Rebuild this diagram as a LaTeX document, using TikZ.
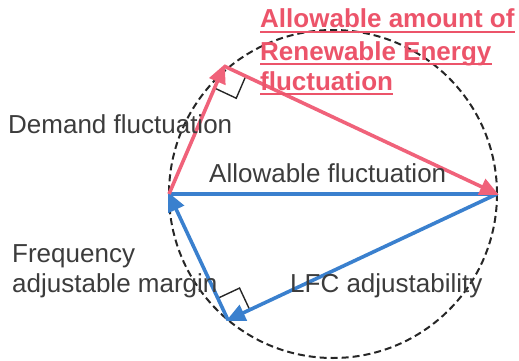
\documentclass[tikz,border=0pt]{standalone}
\usepackage{fontspec}
\setmainfont{Liberation Sans}
\usetikzlibrary{arrows.meta,calc}
\definecolor{pinkc}{RGB}{240,98,122}
\definecolor{pinkt}{RGB}{236,84,106}
\definecolor{bluec}{RGB}{58,128,206}
\definecolor{grayt}{RGB}{60,60,60}
\tikzset{
  vec/.style={line width=3.6pt,-{Triangle[length=19pt,width=17pt]}},
  pinkvec/.style={vec,draw=pinkc,fill=pinkc},
  bluevec/.style={vec,draw=bluec,fill=bluec},
  lbl/.style={inner sep=0pt,anchor=base west,text=grayt,font=\fontsize{26}{30}\selectfont},
  plbl/.style={inner sep=0pt,anchor=base west,text=pinkt,font=\fontsize{26}{30}\selectfont\bfseries},
  uline/.style={draw=pinkt,line width=1.6pt},
  rmark/.style={draw=black!85,line width=1.4pt},
  circ/.style={draw=black!85,line width=2pt,dash pattern=on 7pt off 4pt}
}
\begin{document}
\begin{tikzpicture}[x=1pt,y=-1pt]
\useasboundingbox (0,0) rectangle (519,361);
\coordinate (O) at (333,194);
\coordinate (A) at (169,194);
\coordinate (B) at (497,194);
\coordinate (C) at (224,66);
\coordinate (D) at (228,320);
\draw[circ] (O) circle[radius=164];
% right angle marks
\coordinate (Ca) at ($(C)!24pt!(A)$);
\coordinate (Cb) at ($(C)!24pt!(B)$);
\draw[rmark] (Ca) -- ($(Ca)+(Cb)-(C)$) -- (Cb);
\coordinate (Da) at ($(D)!24pt!(A)$);
\coordinate (Db) at ($(D)!24pt!(B)$);
\draw[rmark] (Da) -- ($(Da)+(Db)-(D)$) -- (Db);
% blue vectors
\draw[line width=3.6pt,bluec] (A) -- (B);
\draw[bluevec,shorten >=-2pt] (D) -- (A);
\draw[bluevec,shorten >=-2pt] (B) -- (D);
% pink vectors
\draw[pinkvec,shorten >=-2pt] (A) -- (C);
\draw[pinkvec,shorten >=-2pt] (C) -- (B);
% labels
\node[plbl] (t1) at (260,28) {Allowable amount of};
\node[plbl] (t2) at (260,60) {Renewable Energy};
\node[plbl] (t3) at (260,90) {fluctuation};
\draw[uline] ([yshift=-4]t1.base west) -- ([yshift=-4]t1.base east);
\draw[uline] ([yshift=-4]t2.base west) -- ([yshift=-4]t2.base east);
\draw[uline] ([yshift=-4]t3.base west) -- ([yshift=-4]t3.base east);
\node[lbl] (dem) at (8,133) {Demand fluctuation};
\node[lbl] (alw) at (209,182) {Allowable fluctuation};
\node[lbl] (frq) at (12,262) {Frequency};
\node[lbl] (adj) at (12,292) {adjustable margin};
\node[lbl] (lfc) at (290,292) {LFC adjustability};
\end{tikzpicture}
\end{document}
